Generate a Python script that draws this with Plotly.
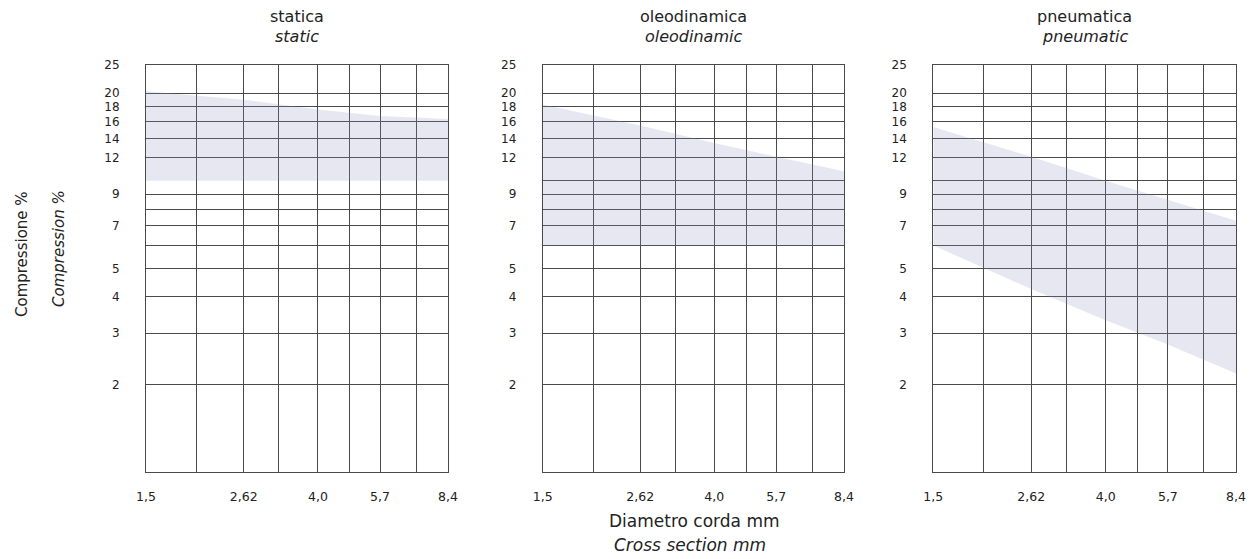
import plotly.graph_objects as go
import math

# ---- data ----
x_grid = [1.5, 2.0, 2.62, 3.2, 4.0, 4.8, 5.7, 7.0, 8.4]
x_labels = ['1,5', '', '2,62', '', '4,0', '', '5,7', '', '8,4']

y_grid_static = [1, 2, 3, 4, 5, 6, 7, 8, 9, 12, 14, 16, 18, 20, 25]
y_grid_other = [1, 2, 3, 4, 5, 6, 7, 8, 9, 10, 12, 14, 16, 18, 20, 25]
y_labelled = [2, 3, 4, 5, 7, 9, 12, 14, 16, 18, 20, 25]

band_x = [1.5, 2.62, 4.0, 5.7, 8.4]
static_upper = [20.3, 19.0, 17.6, 16.7, 16.3]
static_lower = [10, 10, 10, 10, 10]
oleo_upper = [18.3, 15.5, 13.5, 12.1, 10.8]
oleo_lower = [6.0, 6.0, 6.0, 6.0, 6.0]
pneu_upper = [15.3, 12.1, 10.0, 8.6, 7.3]
pneu_lower = [6.0, 4.25, 3.32, 2.74, 2.18]

titles_it = ['statica', 'oleodinamica', 'pneumatica']
titles_en = ['static', 'oleodinamic', 'pneumatic']

# ---- styling ----
FONT = 'DejaVu Sans'
TXT = '#222222'
GRID = '#4a4a4a'
BAND = 'rgba(140,140,195,0.21)'

W, H = 1255, 559
plot_top, plot_bottom = 65, 472
panels_px = [(146, 448), (542.7, 844), (933.3, 1236)]
y_dom = [1 - plot_bottom / H, 1 - plot_top / H]

fig = go.Figure()
bands = [(static_lower, static_upper), (oleo_lower, oleo_upper), (pneu_lower, pneu_upper)]
for i, (lo, up) in enumerate(bands):
    xa = 'x' if i == 0 else f'x{i+1}'
    ya = 'y' if i == 0 else f'y{i+1}'
    fig.add_trace(go.Scatter(x=band_x, y=lo, mode='lines', line=dict(width=0),
                             xaxis=xa, yaxis=ya, showlegend=False, hoverinfo='skip'))
    fig.add_trace(go.Scatter(x=band_x, y=up, mode='lines', line=dict(width=0),
                             fill='tonexty', fillcolor=BAND,
                             xaxis=xa, yaxis=ya, showlegend=False, hoverinfo='skip'))

layout = dict(width=W, height=H, margin=dict(l=0, r=0, t=0, b=0, pad=0),
              autosize=False,
              paper_bgcolor='white', plot_bgcolor='white', showlegend=False,
              font=dict(family=FONT, color=TXT))

for i, (x0, x1) in enumerate(panels_px):
    suffix = '' if i == 0 else str(i + 1)
    ygrid = y_grid_static if i == 0 else y_grid_other
    ytext = [str(v) if v in y_labelled else '' for v in ygrid]
    layout['xaxis' + suffix] = dict(
        type='log', domain=[x0 / W, x1 / W],
        range=[math.log10(1.5), math.log10(8.4)],
        tickmode='array', tickvals=x_grid, ticktext=x_labels,
        showgrid=True, gridcolor=GRID, gridwidth=1,
        showline=True, linecolor=GRID, linewidth=1, mirror=True,
        ticks='', ticklabelstandoff=13, zeroline=False, automargin=False,
        tickfont=dict(family=FONT, size=12.5, color=TXT),
        anchor='y' + suffix, fixedrange=True)
    layout['yaxis' + suffix] = dict(
        type='log', domain=y_dom, range=[0, math.log10(25)],
        tickmode='array', tickvals=ygrid, ticktext=ytext,
        showgrid=True, gridcolor=GRID, gridwidth=1,
        showline=True, linecolor=GRID, linewidth=1, mirror=True,
        ticks='', ticklabelstandoff=23, zeroline=False, automargin=False,
        tickfont=dict(family=FONT, size=12, color=TXT),
        anchor='x' + suffix, fixedrange=True)

annotations = []
for i, (x0, x1) in enumerate(panels_px):
    cx = (x0 + x1) / 2 / W
    annotations.append(dict(text=titles_it[i], x=cx, y=1 - 17 / H, xref='paper', yref='paper',
                            showarrow=False, xanchor='center', yanchor='middle',
                            font=dict(family=FONT, size=16, color=TXT)))
    annotations.append(dict(text='<i>' + titles_en[i] + '</i>', x=cx, y=1 - 37 / H,
                            xref='paper', yref='paper', showarrow=False,
                            xanchor='center', yanchor='middle',
                            font=dict(family=FONT, size=16, color=TXT)))

annotations += [
    dict(text='Compressione %', x=22 / W, y=1 - 254 / H, xref='paper', yref='paper',
         textangle=-90, showarrow=False, xanchor='center', yanchor='middle',
         font=dict(family=FONT, size=15, color=TXT)),
    dict(text='<i>Compression %</i>', x=59 / W, y=1 - 249 / H, xref='paper', yref='paper',
         textangle=-90, showarrow=False, xanchor='center', yanchor='middle',
         font=dict(family=FONT, size=15, color=TXT)),
    dict(text='Diametro corda mm', x=694 / W, y=1 - 521 / H, xref='paper', yref='paper',
         showarrow=False, xanchor='center', yanchor='middle',
         font=dict(family=FONT, size=17, color=TXT)),
    dict(text='<i>Cross section mm</i>', x=690 / W, y=1 - 545 / H, xref='paper', yref='paper',
         showarrow=False, xanchor='center', yanchor='middle',
         font=dict(family=FONT, size=17, color=TXT)),
]
layout['annotations'] = annotations

fig.update_layout(**layout)
fig.write_html('out.html', config={'displayModeBar': False},
               post_script="document.body.style.margin='0';document.body.style.overflow='hidden';")
